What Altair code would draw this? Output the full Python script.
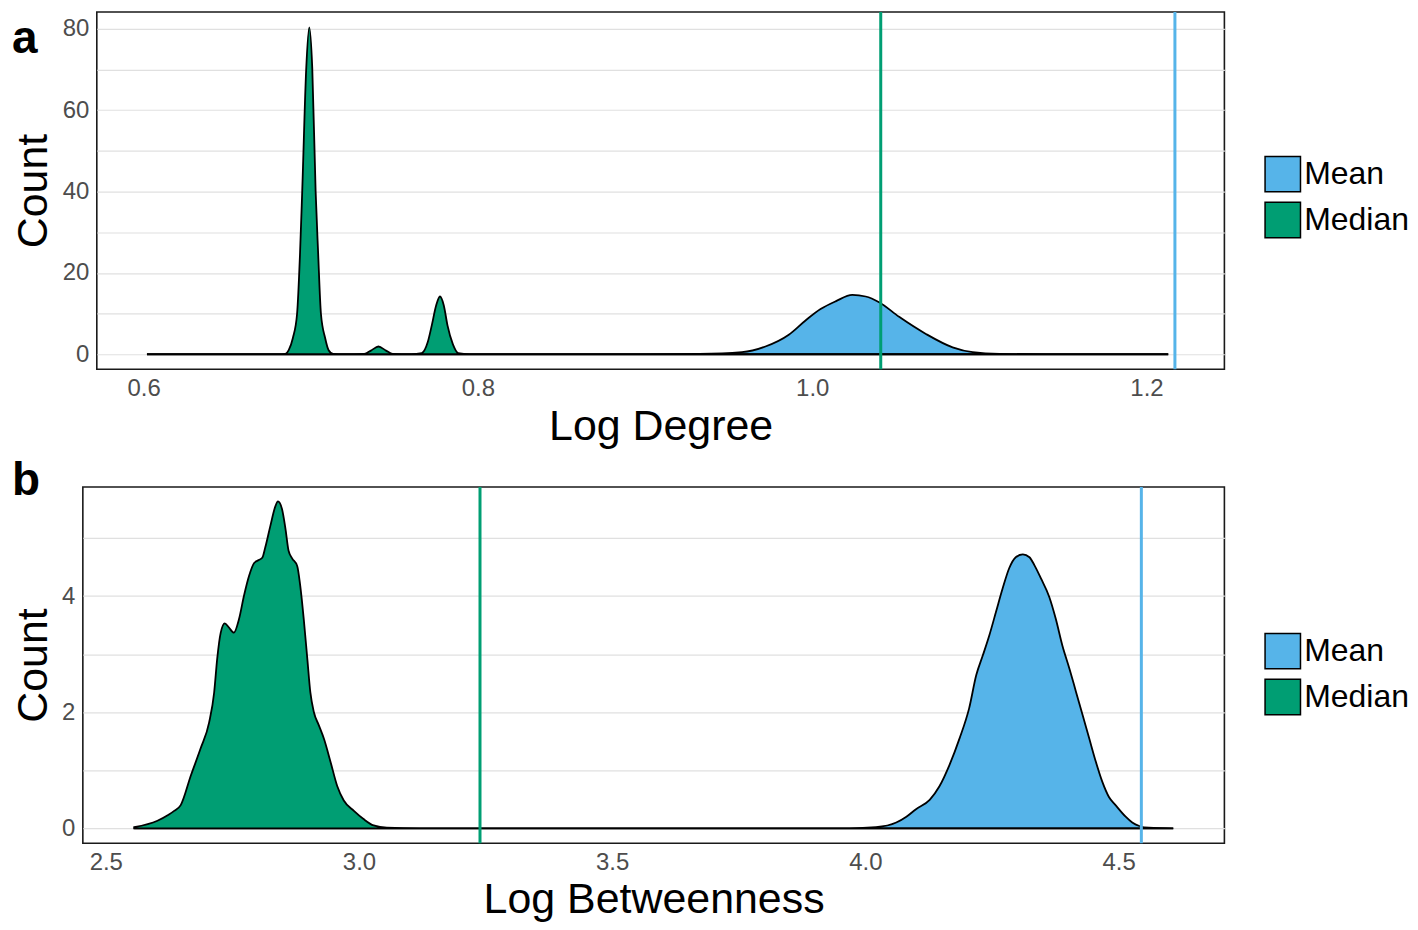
import altair as alt
import pandas as pd

STATS = ["Mean", "Median"]
COLORS = ["#56B4E9", "#009E73"]

# ---------------- Panel a : Log Degree ----------------
a_median_x = [0.602, 0.660, 0.680, 0.6848, 0.6868, 0.6893, 0.6918, 0.6936, 0.6949, 0.6973,
              0.6991, 0.7009, 0.7029, 0.7044, 0.7061, 0.7086, 0.7107, 0.7134, 0.7200, 0.7320,
              0.7360, 0.7405, 0.7450, 0.7490, 0.7600, 0.7664, 0.7700, 0.7724, 0.7750, 0.7773,
              0.7796, 0.7818, 0.7850, 0.7882, 0.7950, 0.850, 1.213]
a_median_y = [0, 0, 0.02, 0.1, 1.0, 4.0, 9.9, 25, 40.2, 70.4,
              80.4, 70.4, 40.2, 25, 9.9, 4.0, 1.0, 0.1, 0.02, 0.1,
              0.9, 1.9, 0.9, 0.1, 0.02, 0.3, 3.0, 7.1, 12.0, 14.2,
              12.0, 7.1, 2.5, 0.3, 0.02, 0, 0]
a_mean_x = [0.602, 0.900, 0.9325, 0.958, 0.972, 0.986, 0.996, 1.005, 1.014, 1.024,
            1.032, 1.040, 1.052, 1.068, 1.084, 1.096, 1.112, 1.140, 1.213]
a_mean_y = [0, 0.02, 0.08, 0.5, 1.9, 4.8, 8.3, 11.1, 13.0, 14.6,
            14.2, 12.8, 9.2, 5.0, 1.7, 0.5, 0.08, 0.01, 0]
a_lines = [1.217, 1.041]          # Mean, Median
a_xticks = [0.6, 0.8, 1.0, 1.2]
a_ygrid = [0, 10, 20, 30, 40, 50, 60, 70, 80]

# ---------------- Panel b : Log Betweenness ----------------
b_median_x = [2.556, 2.602, 2.623, 2.635, 2.648, 2.668, 2.687, 2.704, 2.714, 2.720,
              2.727, 2.735, 2.743, 2.753, 2.763, 2.773, 2.783, 2.793, 2.802, 2.809,
              2.815, 2.825, 2.835, 2.840, 2.848, 2.855, 2.861, 2.868, 2.878, 2.884,
              2.891, 2.898, 2.904, 2.911, 2.921, 2.931, 2.944, 2.957, 2.970, 2.990,
              3.009, 3.029, 3.055, 3.120, 3.300, 4.608]
b_median_y = [0.02, 0.13, 0.23, 0.30, 0.40, 0.91, 1.37, 1.82, 2.34, 2.92,
              3.37, 3.53, 3.46, 3.37, 3.60, 4.01, 4.35, 4.57, 4.62, 4.66,
              4.84, 5.21, 5.55, 5.63, 5.50, 5.15, 4.78, 4.65, 4.52, 4.18,
              3.60, 2.92, 2.34, 2.00, 1.77, 1.54, 1.14, 0.73, 0.48, 0.30,
              0.16, 0.05, 0.01, 0.0, 0.0, 0.0]
b_mean_x = [2.556, 3.900, 3.969, 4.021, 4.061, 4.081, 4.100, 4.127, 4.146, 4.166,
            4.186, 4.205, 4.219, 4.232, 4.245, 4.258, 4.271, 4.284, 4.297, 4.311,
            4.324, 4.334, 4.347, 4.363, 4.376, 4.389, 4.403, 4.416, 4.429, 4.442,
            4.455, 4.468, 4.481, 4.494, 4.514, 4.527, 4.541, 4.560, 4.608]
b_mean_y = [0.0, 0.0, 0.0, 0.02, 0.10, 0.20, 0.33, 0.49, 0.72, 1.09,
            1.55, 2.07, 2.64, 2.98, 3.33, 3.73, 4.13, 4.48, 4.67, 4.72,
            4.67, 4.53, 4.30, 3.99, 3.61, 3.15, 2.75, 2.35, 1.95, 1.55,
            1.15, 0.80, 0.54, 0.40, 0.20, 0.10, 0.04, 0.01, 0.0]
b_lines = [4.545, 3.239]          # Mean, Median
b_xticks = [2.5, 3.0, 3.5, 4.0, 4.5]
b_ygrid = [0, 1, 2, 3, 4, 5]

FONT = "Liberation Sans"


def density_frame(mean_x, mean_y, med_x, med_y):
    rows = [{"x": x, "y": y, "stat": "Mean"} for x, y in zip(mean_x, mean_y)]
    rows += [{"x": x, "y": y, "stat": "Median"} for x, y in zip(med_x, med_y)]
    return pd.DataFrame(rows)


def panel(letter, dens, lines, xdom, ydom, xticks, ygrid, label_step, xtitle,
          width, height, yextent, letter_dx, letter_offset, legend_x, legend_y, xtitle_pad):
    rules_df = pd.DataFrame({"x": lines, "stat": STATS})
    xenc = alt.X("x:Q", scale=alt.Scale(domain=xdom, nice=False, zero=False), title=xtitle,
                 axis=alt.Axis(values=xticks, format=".1f", grid=False, ticks=False, tickSize=0,
                               domain=False, labelPadding=7, minExtent=31, maxExtent=31,
                               titlePadding=xtitle_pad))
    legend = alt.Legend(title=None, orient="none", legendX=legend_x, legendY=legend_y,
                        symbolType="square", symbolSize=1260, symbolStrokeColor="black",
                        symbolStrokeWidth=1.5, symbolOpacity=1, labelFont=FONT,
                        labelFontSize=32, labelColor="black", labelOffset=3,
                        rowPadding=3, padding=0)
    area = alt.Chart(dens).mark_area(
        interpolate="monotone", strokeWidth=1.8, fillOpacity=1
    ).encode(
        x=xenc,
        y=alt.Y("y:Q", scale=alt.Scale(domain=ydom, nice=False, zero=False), title="Count",
                axis=alt.Axis(values=ygrid, grid=True, ticks=False, tickSize=0, domain=False,
                              labelExpr=f"datum.value % {label_step} == 0 ? datum.label : ''",
                              labelPadding=8, minExtent=yextent, maxExtent=yextent,
                              titlePadding=6)),
        y2=alt.datum(0),
        fill=alt.Fill("stat:N", scale=alt.Scale(domain=STATS, range=COLORS), legend=legend),
        stroke=alt.Stroke("stat:N", scale=alt.Scale(domain=STATS, range=["black", "black"]),
                          legend=legend),
    )
    rules = alt.Chart(rules_df).mark_rule(strokeWidth=3).encode(
        x=xenc,
        color=alt.Color("stat:N", scale=alt.Scale(domain=STATS, range=COLORS), legend=None),
    )
    body = alt.layer(area, rules).properties(
        width=width, height=height,
        title=alt.TitleParams(text=letter, anchor="start", frame="group", dx=letter_dx,
                              offset=letter_offset, baseline="top", fontSize=46,
                              fontWeight="bold", font=FONT, color="black"),
    )
    # empty spacer so that each row is laid out from its own left edge
    spacer = alt.Chart(pd.DataFrame({"s": []})).mark_point(opacity=0).properties(
        width=1, height=1, view=alt.ViewBackground(stroke="transparent"))
    return alt.hconcat(spacer, body, spacing=0).resolve_scale(
        x="independent", y="independent", fill="independent", stroke="independent",
        color="independent"
    ).resolve_legend(fill="independent", stroke="independent", color="independent")


pa = panel("a", density_frame(a_mean_x, a_mean_y, a_median_x, a_median_y), a_lines,
           [0.572, 1.2466], [-3.68, 84.17], a_xticks, a_ygrid, 20, "Log Degree",
           1130, 358, 35, -85, -53, 1170, 144, 5)
pb = panel("b", density_frame(b_mean_x, b_mean_y, b_median_x, b_median_y), b_lines,
           [2.4547, 4.709], [-0.256, 5.88], b_xticks, b_ygrid, 2, "Log Betweenness",
           1144, 357, 21, -71, -20, 1184, 146, 4)

chart = alt.vconcat(pa, pb, spacing=8).resolve_scale(
    x="independent", y="independent", fill="independent", stroke="independent",
    color="independent"
).resolve_legend(fill="independent", stroke="independent", color="independent").configure_view(
    stroke="#1a1a1a", strokeWidth=1.6
).configure_axis(
    labelFont=FONT, labelFontSize=24, labelColor="#4D4D4D",
    titleFont=FONT, titleFontSize=43, titleFontWeight="normal", titleColor="black",
    gridColor="#E0E0E0", gridWidth=1.2
).properties(padding=0, background="white")

chart.save("out.html", embed_options={"renderer": "svg", "actions": False})
